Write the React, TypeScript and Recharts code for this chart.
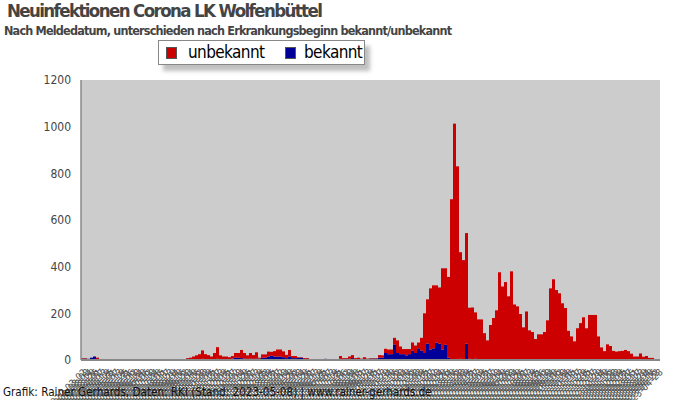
import { BarChart, Bar, XAxis, YAxis, CartesianGrid } from "recharts"

const title = "Neuinfektionen Corona LK Wolfenbüttel"
const subtitle = "Nach Meldedatum, unterschieden nach Erkrankungsbeginn bekannt/unbekannt"
const credit = "Grafik: Rainer Gerhards, Daten: RKI (Stand: 2023-05-08) | www.rainer-gerhards.de"

// one bar every 6 days, starting here
const startDate = "2020-03-02"
const stepDays = 6

// Erkrankungsbeginn bekannt (blue, bottom of stack)
const bekannt = [
  6, 6, 5, 10, 15, 4, 0, 0, 0, 0, 0, 0, 0, 0, 0, 0, 0, 0, 0, 0,
  0, 0, 0, 2, 2, 4, 0, 0, 0, 0, 0, 0, 0, 0, 4, 3, 3, 4, 4, 3,
  5, 3, 3, 2, 3, 5, 3, 4, 4, 3, 6, 10, 10, 8, 6, 5, 6, 5, 6, 6,
  10, 10, 15, 18, 15, 15, 15, 12, 8, 15, 8, 8, 10, 10, 4, 4, 2, 0, 4, 0,
  0, 5, 2, 2, 2, 2, 5, 4, 4, 5, 8, 4, 4, 3, 4, 3, 6, 6, 6, 10,
  10, 30, 25, 25, 67, 30, 25, 25, 20, 25, 40, 30, 50, 40, 30, 70, 45, 50, 75, 70,
  45, 65, 10, 0, 0, 0, 5, 0, 70, 5, 0, 5, 0, 0, 0, 0, 0, 0, 0, 0,
  0, 0, 0, 0, 0, 0, 0, 0, 0, 0, 0, 0, 0, 0, 0, 0, 0, 0, 0, 0,
  0, 0, 0, 0, 0, 0, 0, 0, 0, 0, 0, 0, 0, 0, 0, 0, 0, 0, 0, 0,
  0, 0, 0, 0, 0, 0, 0, 0, 0, 0, 0, 0, 0,
]

// Erkrankungsbeginn unbekannt (red, top of stack)
const unbekannt = [
  2, 2, 0, 0, 0, 6, 4, 0, 0, 4, 0, 0, 4, 0, 0, 0, 0, 0, 0, 0,
  0, 0, 0, 2, 2, 0, 4, 0, 0, 0, 0, 0, 4, 0, 0, 5, 7, 11, 16, 22,
  36, 22, 18, 13, 27, 50, 17, 11, 11, 9, 11, 20, 20, 35, 24, 15, 24, 16, 27, 4,
  14, 14, 21, 17, 23, 30, 30, 25, 14, 28, 9, 9, 2, 2, 4, 4, 2, 0, 0, 0,
  0, 0, 2, 2, 2, 2, 12, 4, 4, 10, 13, 4, 6, 3, 8, 3, 2, 2, 2, 11,
  10, 18, 20, 20, 28, 54, 33, 22, 27, 22, 35, 32, 25, 55, 170, 190, 262, 270, 245, 241,
  348, 328, 346, 689, 1013, 830, 457, 428, 474, 219, 225, 199, 174, 174, 115, 84, 150, 180, 213, 376,
  315, 334, 273, 380, 238, 230, 197, 140, 208, 127, 120, 90, 110, 110, 120, 170, 307, 346, 300, 286,
  243, 223, 125, 101, 80, 136, 158, 183, 136, 193, 193, 193, 101, 54, 38, 67, 60, 39, 36, 38,
  39, 43, 38, 27, 15, 15, 28, 14, 17, 9, 9, 4, 4,
]

const yTicks = [0, 200, 400, 600, 800, 1000, 1200]

const dates = unbekannt.map((_, i) => {
  const d = new Date(startDate + "T00:00:00Z")
  d.setUTCDate(d.getUTCDate() + i * stepDays)
  return d.toISOString().slice(0, 10)
})

const data = dates.map((date, i) => ({
  date,
  bekannt: bekannt[i],
  unbekannt: unbekannt[i],
}))

const font = "'DejaVu Sans Condensed', 'DejaVu Sans', sans-serif"

function LegendBox() {
  const sq = (left: number, color: string) => (
    <div
      style={{
        position: "absolute",
        left,
        top: 6,
        width: 9,
        height: 10,
        background: color,
        border: "1px solid #555",
      }}
    />
  )
  const label = (left: number, text: string) => (
    <div
      style={{
        position: "absolute",
        left,
        top: 0,
        fontSize: 17,
        lineHeight: "22px",
        letterSpacing: -0.6,
        color: "#000",
      }}
    >
      {text}
    </div>
  )
  return (
    <div
      style={{
        position: "absolute",
        left: 158,
        top: 40,
        width: 205,
        height: 23,
        background: "#fff",
        border: "1px solid #888",
        boxShadow: "5px 6px 4px rgba(0,0,0,0.25)",
        fontFamily: font,
      }}
    >
      {sq(7, "#cc0000")}
      {label(29, "unbekannt")}
      {sq(126, "#000099")}
      {label(145, "bekannt")}
    </div>
  )
}

export default function App() {
  return (
    <div style={{ position: "relative", width: 700, height: 400, background: "#fff", overflow: "hidden", fontFamily: font }}>
      <style>{"body{margin:0}"}</style>
      <div
        style={{
          position: "absolute",
          left: 7,
          top: 0,
          fontSize: 18.5,
          fontWeight: "bold",
          letterSpacing: -1.6,
          color: "#444",
          whiteSpace: "nowrap",
        }}
      >
        {title}
      </div>
      <div
        style={{
          position: "absolute",
          left: 4,
          top: 23,
          fontSize: 12.5,
          fontWeight: "bold",
          letterSpacing: -0.8,
          color: "#444",
          whiteSpace: "nowrap",
        }}
      >
        {subtitle}
      </div>
      <BarChart
        width={700}
        height={400}
        data={data}
        barCategoryGap={0}
        barGap={0}
        margin={{ top: 80, right: 40, left: 0, bottom: 0 }}
      >
        <CartesianGrid fill="#cccccc" horizontal={false} vertical={false} />
        <XAxis
          dataKey="date"
          interval={0}
          height={40}
          tickLine={false}
          axisLine={{ stroke: "#888", strokeWidth: 2 }}
          tick={{ fontSize: 10, fill: "#555", angle: -45, textAnchor: "end", fontFamily: font }}
        />
        <YAxis
          width={81}
          domain={[0, 1200]}
          ticks={yTicks}
          tickLine={false}
          tickMargin={4}
          axisLine={{ stroke: "#888", strokeWidth: 1.5 }}
          tick={{ fontSize: 12, fill: "#444", fontFamily: font }}
        />
        <Bar dataKey="bekannt" stackId="a" fill="#000099" isAnimationActive={false} />
        <Bar dataKey="unbekannt" stackId="a" fill="#cc0000" isAnimationActive={false} />
      </BarChart>
      <LegendBox />
      <div
        style={{
          position: "absolute",
          left: 3,
          top: 385,
          fontSize: 11.6,
          color: "#111",
          whiteSpace: "nowrap",
        }}
      >
        {credit}
      </div>
    </div>
  )
}
